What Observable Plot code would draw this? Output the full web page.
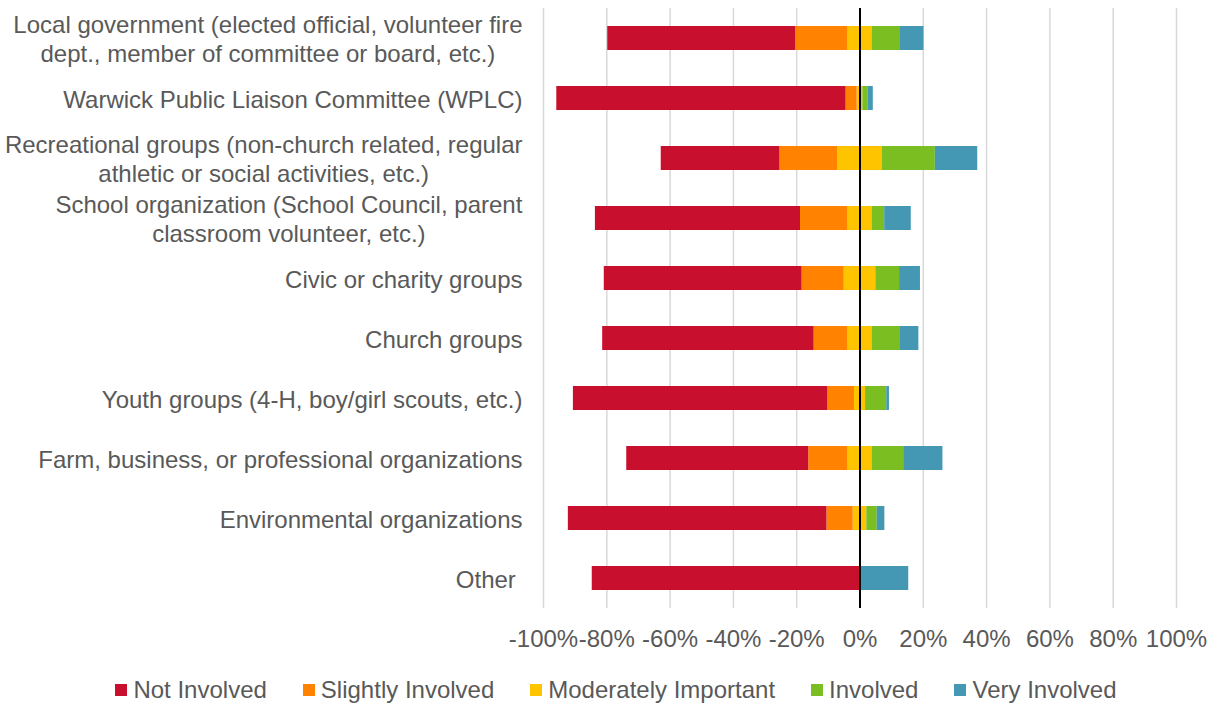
<!DOCTYPE html>
<html><head><meta charset="utf-8">
<script src="https://cdn.jsdelivr.net/npm/d3@7"></script>
<script src="https://cdn.jsdelivr.net/npm/@observablehq/plot@0.6"></script>
<style>
body{margin:0;background:#fff;font-family:"Liberation Sans",Arial,sans-serif;}
#chart svg{display:block;}
#legend{height:60px;display:flex;align-items:center;justify-content:center;padding-left:20px;box-sizing:border-box;width:1212px;font-size:24px;color:#595959;}
#legend .item{display:flex;align-items:center;margin:0 18px;}
#legend .sw{width:12px;height:12px;margin-right:6px;display:inline-block;}
</style></head><body>
<div id="chart"></div>
<div id="legend"></div>
<script>
const categories = [
  "Local government (elected official, volunteer fire\ndept., member of committee or board, etc.)",
  "Warwick Public Liaison Committee (WPLC)",
  "Recreational groups (non-church related, regular\nathletic or social activities, etc.)",
  "School organization (School Council, parent\nclassroom volunteer, etc.)",
  "Civic or charity groups",
  "Church groups",
  "Youth groups (4-H, boy/girl scouts, etc.)",
  "Farm, business, or professional organizations",
  "Environmental organizations",
  "Other\u00a0"
];
const levels = ["Not Involved","Slightly Involved","Moderately Important","Involved","Very Involved"];
const colors = ["#C8102E","#FF8200","#FFC400","#7ABE22","#4498B4"];
const notInvolved = [59.4, 91.4, 37.5, 64.8, 62.5, 66.8, 80.4, 57.5, 81.7, 84.6];
const slightlyInvolved = [16.5, 3.5, 18.2, 15.0, 13.3, 10.7, 8.4, 12.4, 8.3, 0];
const moderatelyImportant = [7.6, 1.8, 14.2, 7.6, 10.0, 7.6, 3.5, 7.6, 4.3, 0];
const involved = [9.0, 1.6, 16.7, 4.0, 7.5, 9.0, 6.7, 10.0, 3.3, 0];
const veryInvolved = [7.4, 1.7, 13.4, 8.4, 6.6, 5.8, 0.85, 12.4, 2.4, 15.4];
const xTicks = [-100,-80,-60,-40,-20,0,20,40,60,80,100];

// diverging stack: moderate split around zero
const segments = [];
categories.forEach((c, i) => {
  const m = moderatelyImportant[i] / 2;
  let left = -m;
  segments.push({category:c, level:levels[2], x1:-m, x2:m});
  segments.push({category:c, level:levels[1], x1:left - slightlyInvolved[i], x2:left});
  left -= slightlyInvolved[i];
  segments.push({category:c, level:levels[0], x1:left - notInvolved[i], x2:left});
  let right = m;
  segments.push({category:c, level:levels[3], x1:right, x2:right + involved[i]});
  right += involved[i];
  segments.push({category:c, level:levels[4], x1:right, x2:right + veryInvolved[i]});
});
const segs = segments.filter(d => d.x2 - d.x1 > 0);

const chart = Plot.plot({
  width: 1212, height: 660,
  marginLeft: 543, marginRight: 36, marginTop: 8, marginBottom: 52,
  style: {fontFamily: "'Liberation Sans', Arial, sans-serif", fontSize: "24px", color: "#595959", background: "white"},
  x: {domain: [-100, 100], label: null},
  y: {domain: categories, paddingInner: 0.6, paddingOuter: 0.3, label: null},
  color: {domain: levels, range: colors},
  marks: [
    Plot.ruleX(xTicks.filter(d => d !== 0), {stroke: "#D9D9D9", strokeWidth: 1.5}),
    Plot.barX(segs, {y: "category", x1: "x1", x2: "x2", fill: "level"}),
    Plot.ruleX([0], {stroke: "#000", strokeWidth: 2}),
    Plot.axisX({ticks: xTicks, tickSize: 0, tickPadding: 21, tickFormat: d => d + "%", label: null, fontSize: 24}),
    Plot.axisY({tickSize: 0, tickPadding: 21, label: null, fontSize: 24, lineHeight: 1.17, lineWidth: Infinity})
  ]
});
document.getElementById("chart").appendChild(chart);

// center multi-line labels within their block, keeping right edge aligned
const yAxis = chart.querySelector('g[aria-label="y-axis tick label"]');
if (yAxis) {
  yAxis.querySelectorAll("text").forEach(t => {
    const w = t.getBBox().width;
    t.setAttribute("text-anchor", "middle");
    const tr = t.getAttribute("transform") || "";
    t.setAttribute("transform", tr + ` translate(${-w/2},0)`);
  });
}

const legend = document.getElementById("legend");
levels.forEach((l, i) => {
  const it = document.createElement("div");
  it.className = "item";
  it.innerHTML = `<span class="sw" style="background:${colors[i]}"></span><span>${l}</span>`;
  legend.appendChild(it);
});
</script>
</body></html>
